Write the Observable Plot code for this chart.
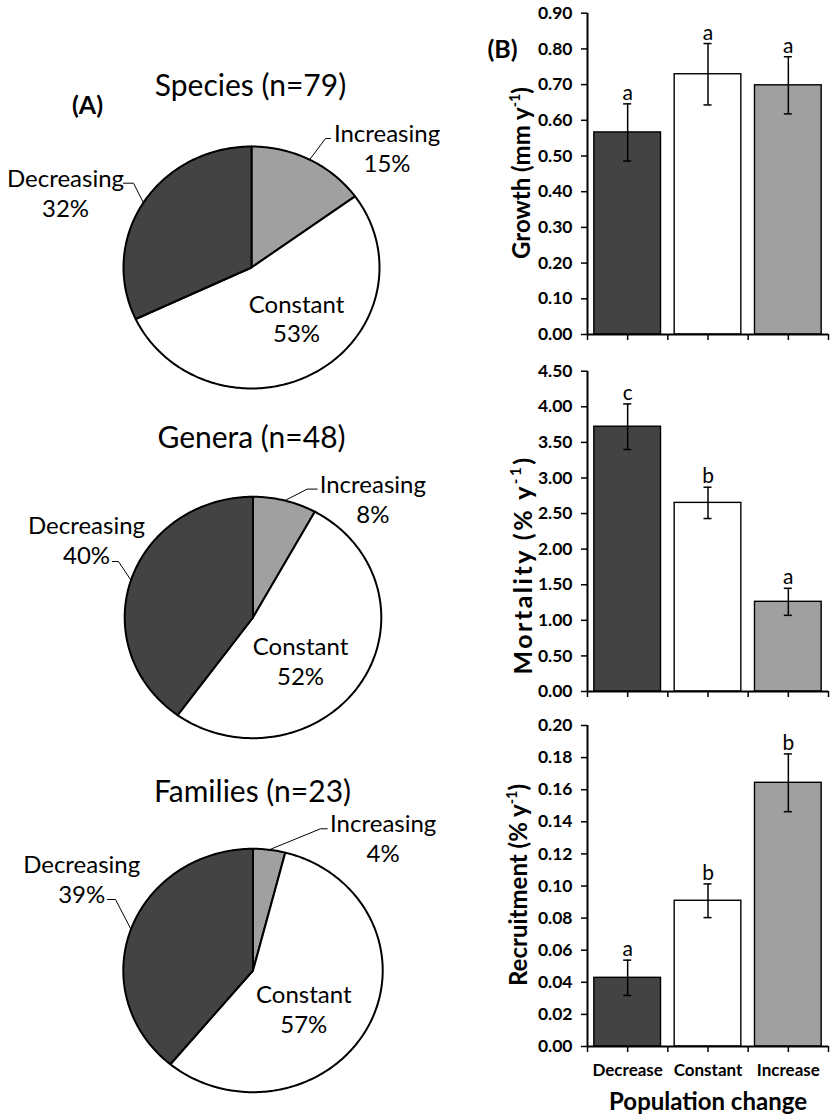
<!DOCTYPE html>
<html>
<head>
<meta charset="utf-8">
<script src="https://cdn.jsdelivr.net/npm/d3@7"></script>
<script src="https://cdn.jsdelivr.net/npm/@observablehq/plot@0.6"></script>
<style>
  html, body { margin: 0; padding: 0; background: #fff; overflow: hidden; }
  #root { position: relative; width: 830px; height: 1115px; overflow: hidden; font-family: Lato, "Open Sans", sans-serif; color: #000; }
  .abs { position: absolute; }
  .ytitle { position: absolute; transform: translate(-50%, -50%) rotate(-90deg); white-space: nowrap; font-weight: bold; font-size: 24px; line-height: 1; font-family: Lato, "Open Sans", sans-serif; }
  .ytitle sup { font-size: 0.6em; position: relative; top: -0.1em; }
  .panel { position: absolute; font-weight: bold; font-size: 25px; transform: translate(-50%, -50%); white-space: nowrap; line-height: 1; font-family: Lato, "Open Sans", sans-serif; }
</style>
</head>
<body>
<div id="root"></div>
<script>
// ---------------- data ----------------
const pieCats = ["Increasing", "Constant", "Decreasing"];
const pieColors = ["#a0a0a0", "#ffffff", "#434343"];
const pieTitles = ["Species (n=79)", "Genera (n=48)", "Families (n=23)"];
const speciesPct = [15, 53, 32];
const generaPct = [8, 52, 40];
const familiesPct = [4, 57, 39];

const barCats = ["Decrease", "Constant", "Increase"];
const barColors = ["#434343", "#ffffff", "#a0a0a0"];

const growthMean = [0.566, 0.729, 0.698];
const growthErr = [0.080, 0.086, 0.080];
const growthLetters = ["a", "a", "a"];
const growthTicks = [0, 0.1, 0.2, 0.3, 0.4, 0.5, 0.6, 0.7, 0.8, 0.9];

const mortalityMean = [3.72, 2.65, 1.26];
const mortalityErr = [0.32, 0.22, 0.19];
const mortalityLetters = ["c", "b", "a"];
const mortalityTicks = [0, 0.5, 1.0, 1.5, 2.0, 2.5, 3.0, 3.5, 4.0, 4.5];

const recruitMean = [0.0428, 0.0908, 0.1643];
const recruitErr = [0.011, 0.0105, 0.018];
const recruitLetters = ["a", "b", "b"];
const recruitTicks = [0, 0.02, 0.04, 0.06, 0.08, 0.10, 0.12, 0.14, 0.16, 0.18, 0.20];

// ---------------- layout (pixels) ----------------
const root = document.getElementById("root");
const FONT = "Lato, 'Open Sans', sans-serif";

function place(el, left, top) {
  const d = document.createElement("div");
  d.className = "abs";
  d.style.left = left + "px";
  d.style.top = top + "px";
  d.appendChild(el);
  root.appendChild(d);
}

// label offsets (pixels from pie centre)
const pieLayouts = [
  { cx: 251, cy: 267, rx: 128, ry: 121, title: [-1, -181],
    inc: { lab: [135.5, -120.3], elbow: [74, -129], end: [79, -129] },
    dec: { lab: [-186, -75.2], elbow: [-118, -84.3], end: [-128, -84.3] },
    con: [45, 50.4] },
  { cx: 252.5, cy: 616.7, rx: 128.3, ry: 120.7, title: [-1.5, -178.7],
    inc: { lab: [119.8, -119.4], elbow: [54.2, -128.4], end: [64.2, -128.4] },
    dec: { lab: [-166.5, -78.2], elbow: [-134.5, -56], end: [-140.5, -56] },
    con: [47.5, 42.8] },
  { cx: 252.5, cy: 970, rx: 129.7, ry: 121.7, title: [-0.5, -178.3],
    inc: { lab: [130.2, -132.7], elbow: [67.5, -141.7], end: [74.2, -141.7] },
    dec: { lab: [-171.3, -92.2], elbow: [-137.5, -71], end: [-145.5, -71] },
    con: [50.8, 38] }
];

function piePlot(values, title, L) {
  const W = 470, H = 345, C = 200;
  const nx = p => p[0] / L.rx, ny = p => -p[1] / L.ry;
  const items = pieCats.map((c, i) => ({ cat: c, value: values[i] }));
  const arcs = d3.pie().sort(null).value(d => d.value)(items);
  const pts = [];
  const mids = {};
  for (const a of arcs) {
    const cat = a.data.cat;
    pts.push({ cat, x: 0, y: 0 });
    const n = Math.max(2, Math.ceil((a.endAngle - a.startAngle) / (Math.PI / 180)));
    for (let k = 0; k <= n; k++) {
      const t = a.startAngle + (a.endAngle - a.startAngle) * k / n;
      pts.push({ cat, x: Math.sin(t), y: Math.cos(t) });
    }
    pts.push({ cat, x: 0, y: 0 });
    const m = (a.startAngle + a.endAngle) / 2;
    mids[cat] = [Math.sin(m), Math.cos(m)];
  }
  const leaders = [];
  for (const [cat, key] of [["Increasing", "inc"], ["Decreasing", "dec"]]) {
    leaders.push({ cat, x: mids[cat][0], y: mids[cat][1] });
    leaders.push({ cat, x: nx(L[key].elbow), y: ny(L[key].elbow) });
    leaders.push({ cat, x: nx(L[key].end), y: ny(L[key].end) });
  }
  const labels = items.map(d => {
    const p = d.cat === "Increasing" ? L.inc.lab : d.cat === "Decreasing" ? L.dec.lab : L.con;
    return { text: `${d.cat}\n${d.value}%`, x: nx(p), y: ny(p) };
  });
  return Plot.plot({
    width: W, height: H,
    marginLeft: L.cx - L.rx, marginRight: W - L.cx - L.rx,
    marginTop: C - L.ry, marginBottom: H - C - L.ry,
    x: { domain: [-1, 1], axis: null },
    y: { domain: [-1, 1], axis: null },
    color: { domain: pieCats, range: pieColors },
    style: { fontFamily: FONT, background: "transparent", overflow: "visible", color: "#000" },
    marks: [
      Plot.line(pts, { x: "x", y: "y", z: "cat", fill: "cat", stroke: "#000", strokeWidth: 2, strokeLinejoin: "round" }),
      Plot.line(leaders, { x: "x", y: "y", z: "cat", stroke: "#000", strokeWidth: 1 }),
      Plot.text(labels, { x: "x", y: "y", text: "text", fontSize: 24, lineHeight: 1.25, fill: "#000" }),
      Plot.text([title], { x: nx(L.title), y: ny(L.title), fontSize: 30, fill: "#000" })
    ]
  });
}

const pieData = [speciesPct, generaPct, familiesPct];
pieLayouts.forEach((L, i) => {
  place(piePlot(pieData[i], pieTitles[i], L), 0, L.cy - 200);
});

// ---------------- bar charts ----------------
function barPlot(mean, err, letters, ticks, opts) {
  const data = barCats.map((c, i) => ({ i, cat: c, v: mean[i], e: err[i], l: letters[i] }));
  const ymax = ticks[ticks.length - 1];
  const pad = 0.085, cap = 0.05;
  const marks = [
    Plot.rectY(data, { x1: d => d.i + pad, x2: d => d.i + 1 - pad, y1: 0, y2: "v", fill: "cat", stroke: "#000", strokeWidth: 1.4 }),
    Plot.ruleX(data, { x: d => d.i + 0.5, y1: d => d.v - d.e, y2: d => d.v + d.e, stroke: "#000", strokeWidth: 1.5 }),
    Plot.ruleY(data, { y: d => d.v + d.e, x1: d => d.i + 0.5 - cap, x2: d => d.i + 0.5 + cap, stroke: "#000", strokeWidth: 1.5 }),
    Plot.ruleY(data, { y: d => d.v - d.e, x1: d => d.i + 0.5 - cap, x2: d => d.i + 0.5 + cap, stroke: "#000", strokeWidth: 1.5 }),
    Plot.text(data, { x: d => d.i + 0.5, y: d => d.v + d.e, text: "l", dy: -4, lineAnchor: "bottom", fontSize: 21, fill: "#000" }),
    Plot.axisY({ ticks, tickFormat: d3.format(".2f"), tickSize: 6, tickPadding: 9, fontWeight: "bold", fontSize: 17.5, strokeWidth: 1.5, label: null }),
    Plot.axisX({ ticks: [0, 1, 2, 3], tickFormat: () => "", tickSize: 6, strokeWidth: 1.5, label: null }),
    Plot.axisX({ ticks: [0.5, 1.5, 2.5], tickSize: 6, strokeWidth: 1.5, tickPadding: 11, label: null,
      tickFormat: opts.showCats ? (t => barCats[Math.floor(t)]) : () => "", fontWeight: "bold", fontSize: 17 }),
    Plot.ruleX([0], { y1: 0, y2: ymax, stroke: "#000", strokeWidth: 2 }),
    Plot.ruleY([0], { x1: 0, x2: 3, stroke: "#000", strokeWidth: 2 })
  ];
  if (opts.xlabel) {
    marks.push(Plot.text([opts.xlabel], { frameAnchor: "bottom", dy: 63, fontSize: 24, fontWeight: "bold", fill: "#000" }));
  }
  return Plot.plot({
    width: 350, height: opts.height,
    marginLeft: 107, marginRight: 2,
    marginTop: opts.mt, marginBottom: opts.mb,
    x: { domain: [0, 3], label: null },
    y: { domain: [0, ymax], label: null },
    color: { domain: barCats, range: barColors },
    style: { fontFamily: FONT, background: "transparent", overflow: "visible", color: "#000" },
    marks
  });
}

place(barPlot(growthMean, growthErr, growthLetters, growthTicks, { height: 350, mt: 12.7, mb: 16 }), 480, 0);
place(barPlot(mortalityMean, mortalityErr, mortalityLetters, mortalityTicks, { height: 350, mt: 15.7, mb: 14 }), 480, 355);
place(barPlot(recruitMean, recruitErr, recruitLetters, recruitTicks, { height: 405, mt: 15, mb: 69, showCats: true, xlabel: "Population change" }), 480, 710);

// ---------------- titles / panel labels ----------------
function addHTML(cls, html, x, y, extra) {
  const d = document.createElement("div");
  d.className = cls;
  d.innerHTML = html;
  d.style.left = x + "px";
  d.style.top = y + "px";
  if (extra) Object.assign(d.style, extra);
  root.appendChild(d);
}
addHTML("ytitle", "Growth (mm y<sup>-1</sup>)", 521, 173);
addHTML("ytitle", "Mortality (% y<sup>-1</sup>)", 522, 565, { fontSize: "25px", letterSpacing: "2.5px" });
addHTML("ytitle", "Recruitment (% y<sup>-1</sup>)", 518, 885);
addHTML("panel", "(A)", 87.5, 104);
addHTML("panel", "(B)", 502.5, 47.5);
</script>
</body>
</html>
